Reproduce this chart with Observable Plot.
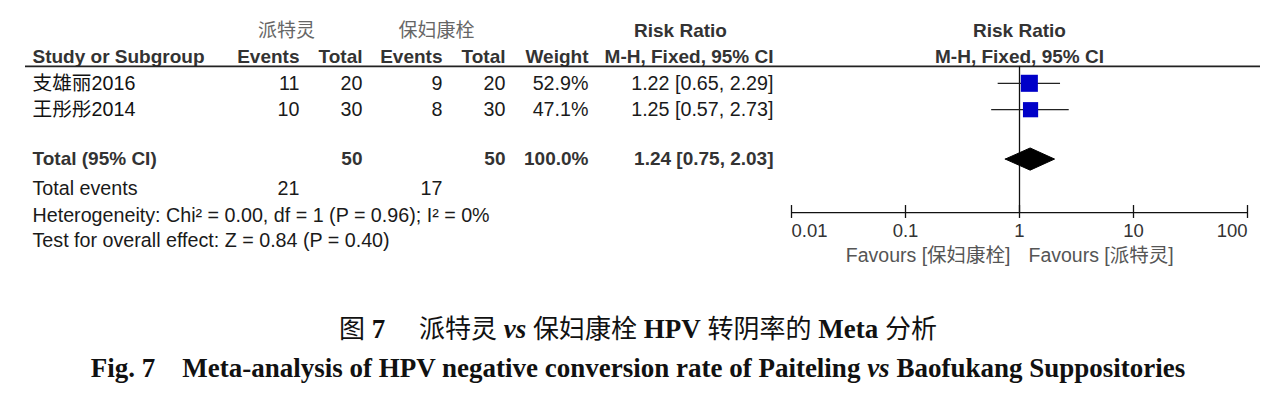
<!DOCTYPE html>
<html>
<head>
<meta charset="utf-8">
<script src="https://cdn.jsdelivr.net/npm/d3@7"></script>
<script src="https://cdn.jsdelivr.net/npm/@observablehq/plot@0.6"></script>
<style>
  html, body { margin: 0; padding: 0; background: #fff; }
  #chart svg { display: block; }
  .cap { text-align: center; color: #111; white-space: pre; }
  .cap1 { font-family: "Liberation Serif", "Noto Sans CJK SC", serif; font-size: 27px; margin-top: 29px; line-height: 32px; }
  .cap2 { font-family: "Liberation Serif", serif; font-weight: bold; font-size: 27px; line-height: 32px; margin-top: 7px; }
  .b { font-weight: bold; font-family: "Liberation Serif", serif; }
  .cn { font-family: "Noto Sans CJK SC", sans-serif; font-size: 26px; }
</style>
</head>
<body>
<div id="chart"></div>
<div class="cap cap1"><span class="cn">图</span> <span class="b">7</span>　 <span class="cn">派特灵</span> <i class="b">vs</i> <span class="cn">保妇康栓</span> <span class="b">HPV</span> <span class="cn">转阴率的</span> <span class="b">Meta</span> <span class="cn">分析</span></div>
<div class="cap cap2">Fig. 7    Meta-analysis of HPV negative conversion rate of Paiteling <i>vs</i> Baofukang Suppositories</div>
<script>
// ---- data ----
const groups = ["派特灵", "保妇康栓"];
const studies = ["支雄丽2016", "王彤彤2014"];
const expEvents = [11, 10];
const expTotal = [20, 30];
const ctrlEvents = [9, 8];
const ctrlTotal = [20, 30];
const weights = [52.9, 47.1];
const rr = [1.22, 1.25];
const rrLo = [0.65, 0.57];
const rrHi = [2.29, 2.73];
const pooled = {expTotal: 50, ctrlTotal: 50, weight: 100.0, rr: 1.24, lo: 0.75, hi: 2.03, expEvents: 21, ctrlEvents: 17};
const heterogeneity = "Heterogeneity: Chi² = 0.00, df = 1 (P = 0.96); I² = 0%";
const overallEffect = "Test for overall effect: Z = 0.84 (P = 0.40)";
const xTicks = [0.01, 0.1, 1, 10, 100];
const xTickLabels = ["0.01", "0.1", "1", "10", "100"];
const favours = ["Favours [保妇康栓]", "Favours [派特灵]"];

// ---- layout (row indices / column offsets) ----
const ROW = {grp: 0, head: 1, s0: 2, total: 4.87, events: 6, het: 7, test: 7.98, line: 1.36, axis: 6.9, tickLab: 7.6, fav: 8.53};
const COL = {study: 7, e1: 274, t1: 337, e2: 417, t2: 480, w: 563, ci: 748, g1: 261, g2: 411, rr: 655};
const rows = studies.map((s, i) => ({
  study: s, e1: expEvents[i], t1: expTotal[i], e2: ctrlEvents[i], t2: ctrlTotal[i],
  w: weights[i].toFixed(1) + "%", rr: rr[i], lo: rrLo[i], hi: rrHi[i], weight: weights[i],
  ci: `${rr[i].toFixed(2)} [${rrLo[i].toFixed(2)}, ${rrHi[i].toFixed(2)}]`, row: ROW.s0 + i
}));

const font = "Liberation Sans, Arial, Noto Sans CJK SC, sans-serif";
const hdr = {fontWeight: "bold", fontSize: 19, fill: "#333", frameAnchor: "left"};
const reg = {fontSize: 19.7, fill: "#1a1a1a", frameAnchor: "left"};
const grp = {fontSize: 19, fill: "#666", fontFamily: "Noto Sans CJK SC, sans-serif", textAnchor: "middle", frameAnchor: "left"};

function col(data, key, dx, opts) {
  return Plot.text(data, {text: key, y: "row", dx, textAnchor: "end", ...opts});
}

const headers = [
  {t: "Study or Subgroup", dx: COL.study, a: "start"},
  {t: "Events", dx: COL.e1, a: "end"},
  {t: "Total", dx: COL.t1, a: "end"},
  {t: "Events", dx: COL.e2, a: "end"},
  {t: "Total", dx: COL.t2, a: "end"},
  {t: "Weight", dx: COL.w, a: "end"},
  {t: "M-H, Fixed, 95% CI", dx: COL.ci, a: "end"}
];

const totalRow = [{row: ROW.total, t1: pooled.expTotal, t2: pooled.ctrlTotal, w: pooled.weight.toFixed(1) + "%",
  ci: `${pooled.rr.toFixed(2)} [${pooled.lo.toFixed(2)}, ${pooled.hi.toFixed(2)}]`}];
const eventsRow = [{row: ROW.events, e1: pooled.expEvents, e2: pooled.ctrlEvents}];

const dh = 0.42;
const diamond = [
  {x: pooled.lo, y: ROW.total}, {x: pooled.rr, y: ROW.total - dh},
  {x: pooled.hi, y: ROW.total}, {x: pooled.rr, y: ROW.total + dh}, {x: pooled.lo, y: ROW.total}
];

const ticks = xTicks.map((v, i) => ({v, label: xTickLabels[i], i}));
const tickStyle = {x: "v", y: ROW.tickLab, text: "label", fontSize: 18.5, fill: "#333"};

const chart = Plot.plot({
  width: 1276,
  height: 282,
  marginLeft: 25,
  marginRight: 16,
  marginTop: 0,
  marginBottom: 0,
  style: {fontFamily: font, background: "white"},
  x: {type: "log", domain: [0.01, 100], range: [791, 1247], axis: null},
  y: {type: "linear", domain: [0, 10], range: [30, 294], axis: null},
  r: {type: "linear", domain: [0, 100], range: [0, 18.2]},
  marks: [
    // group headers
    Plot.text([groups[0]], {text: d => d, y: ROW.grp, dx: COL.g1, ...grp}),
    Plot.text([groups[1]], {text: d => d, y: ROW.grp, dx: COL.g2, ...grp}),
    Plot.text(["Risk Ratio"], {text: d => d, y: ROW.grp, dx: COL.rr, ...hdr, textAnchor: "middle"}),
    Plot.text(["Risk Ratio"], {text: d => d, x: 1, y: ROW.grp, fontWeight: "bold", fontSize: 19, fill: "#333", textAnchor: "middle"}),
    Plot.text(["M-H, Fixed, 95% CI"], {text: d => d, x: 1, y: ROW.head, fontWeight: "bold", fontSize: 19, fill: "#333", textAnchor: "middle"}),
    // column headers
    ...headers.map(h => Plot.text([h], {text: "t", y: ROW.head, dx: h.dx, textAnchor: h.a, ...hdr})),
    // header rule
    Plot.ruleY([ROW.line], {stroke: "#222", strokeWidth: 1.6}),
    // study rows
    Plot.text(rows, {text: "study", y: "row", dx: COL.study, textAnchor: "start", ...reg, fill: "#111"}),
    col(rows, "e1", COL.e1, reg),
    col(rows, "t1", COL.t1, reg),
    col(rows, "e2", COL.e2, reg),
    col(rows, "t2", COL.t2, reg),
    col(rows, "w", COL.w, reg),
    col(rows, "ci", COL.ci, reg),
    // total row
    Plot.text(["Total (95% CI)"], {text: d => d, y: ROW.total, dx: COL.study, textAnchor: "start", ...hdr}),
    col(totalRow, "t1", COL.t1, hdr),
    col(totalRow, "t2", COL.t2, hdr),
    col(totalRow, "w", COL.w, hdr),
    col(totalRow, "ci", COL.ci, hdr),
    // total events
    Plot.text(["Total events"], {text: d => d, y: ROW.events, dx: COL.study, textAnchor: "start", ...reg}),
    col(eventsRow, "e1", COL.e1, reg),
    col(eventsRow, "e2", COL.e2, reg),
    Plot.text([heterogeneity], {text: d => d, y: ROW.het, dx: COL.study, textAnchor: "start", ...reg}),
    Plot.text([overallEffect], {text: d => d, y: ROW.test, dx: COL.study, textAnchor: "start", ...reg}),
    // forest plot
    Plot.ruleX([1], {y1: ROW.line, y2: ROW.axis, stroke: "#111", strokeWidth: 1.3}),
    Plot.ruleY([ROW.axis], {x1: xTicks[0], x2: xTicks[xTicks.length - 1], stroke: "#111", strokeWidth: 1.3}),
    Plot.ruleX(xTicks, {y1: ROW.axis - 0.27, y2: ROW.axis + 0.22, stroke: "#111", strokeWidth: 1.3}),
    Plot.ruleY(rows, {y: "row", x1: "lo", x2: "hi", stroke: "#222", strokeWidth: 1.3}),
    Plot.dot(rows, {x: "rr", y: "row", r: "weight", symbol: "square", fill: "#0000c8", stroke: "none"}),
    Plot.line(diamond, {x: "x", y: "y", fill: "#000", stroke: "#000", strokeWidth: 1}),
    // tick labels
    Plot.text(ticks.filter(d => d.i === 0), {...tickStyle, textAnchor: "start"}),
    Plot.text(ticks.filter(d => d.i > 0 && d.i < ticks.length - 1), {...tickStyle, textAnchor: "middle"}),
    Plot.text(ticks.filter(d => d.i === ticks.length - 1), {...tickStyle, textAnchor: "end"}),
    // favours labels
    Plot.text([favours[0]], {text: d => d, x: 1, y: ROW.fav, dx: -9, textAnchor: "end", fontSize: 19.5, fill: "#555"}),
    Plot.text([favours[1]], {text: d => d, x: 1, y: ROW.fav, dx: 9, textAnchor: "start", fontSize: 19.5, fill: "#555"})
  ]
});
document.getElementById("chart").appendChild(chart);
</script>
</body>
</html>
